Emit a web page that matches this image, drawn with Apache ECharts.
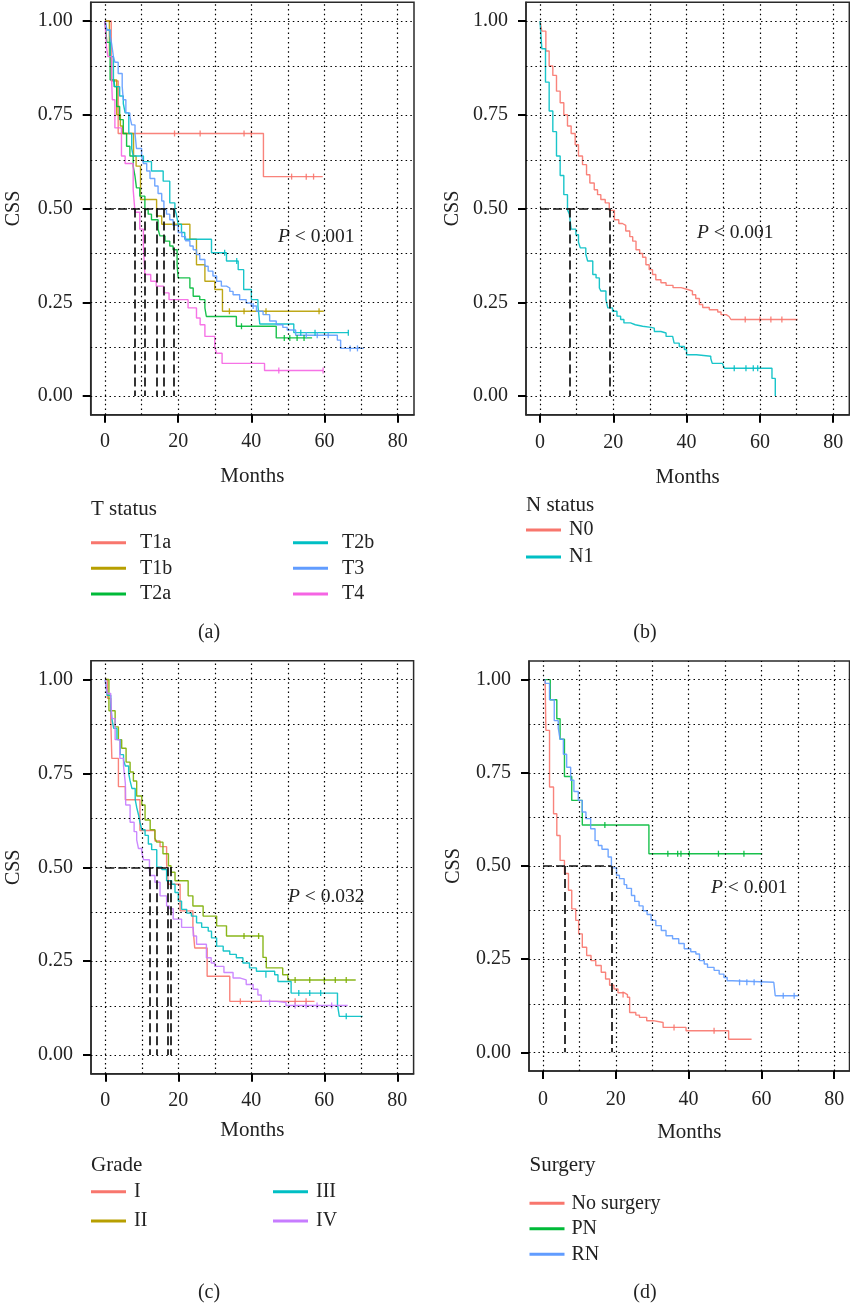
<!DOCTYPE html>
<html><head><meta charset="utf-8">
<script src="https://cdn.jsdelivr.net/npm/echarts@6/dist/echarts.min.js"></script>
<style>html,body{margin:0;padding:0;background:#fff}#c{width:850px;height:1308px}</style>
</head><body><div id="c"></div>
<script>
// ---------- tick / grid values ----------
const xTicks = [0, 20, 40, 60, 80];
const yTicks = [0, 0.25, 0.5, 0.75, 1];
const gridX = [0, 10, 20, 30, 40, 50, 60, 70, 80];
const gridY = [0, 0.125, 0.25, 0.375, 0.5, 0.625, 0.75, 0.875, 1];

// ---------- panel (a) T status ----------
const tNames = ['T1a', 'T1b', 'T2a', 'T2b', 'T3', 'T4'];
const T1a = [[0,1],[1.7,0.84],[3.6,0.70],[43.3,0.585],[59.5,0.585]];
const T1b = [[0,1],[1.2,0.905],[1.8,0.843],[3.2,0.75],[4.2,0.72],[4.8,0.70],[7.8,0.64],[8.5,0.613],[9.7,0.524],[14.1,0.48],[15.5,0.458],[23.2,0.418],[25,0.35],[27.3,0.306],[30,0.284],[32.1,0.226],[59.8,0.226]];
const T2a = [[0,1],[0.5,0.943],[1.4,0.843],[2.5,0.825],[3.2,0.772],[4.0,0.737],[5.0,0.70],[5.9,0.666],[6.8,0.64],[7.7,0.613],[8.2,0.586],[8.6,0.555],[9.5,0.533],[10.9,0.497],[11.8,0.485],[12.7,0.47],[14.5,0.445],[15,0.427],[16.4,0.413],[17.7,0.40],[18.6,0.39],[19.7,0.35],[20,0.315],[23.2,0.288],[24.1,0.266],[25.9,0.257],[27.3,0.235],[27.7,0.212],[35.9,0.186],[46.8,0.155],[56.6,0.155]];
const T2b = [[0,1],[0.5,0.976],[1.4,0.905],[2.3,0.843],[2.7,0.825],[4.0,0.80],[5.0,0.78],[5.5,0.755],[6.5,0.70],[7.3,0.66],[7.7,0.64],[10.5,0.625],[12.7,0.60],[15.9,0.573],[17.7,0.515],[19.1,0.497],[19.5,0.485],[20,0.458],[20.9,0.436],[21.8,0.418],[29.1,0.382],[33.2,0.36],[36.4,0.337],[37.9,0.284],[40,0.257],[41.8,0.24],[42.3,0.192],[51.6,0.169],[66.5,0.169]];
const T3 = [[0,1],[0.5,0.976],[1.4,0.962],[1.8,0.94],[2.3,0.905],[2.7,0.89],[3.6,0.86],[4.7,0.825],[5.0,0.79],[5.7,0.755],[6.8,0.745],[7.3,0.723],[8.2,0.70],[8.6,0.66],[10,0.64],[10.5,0.62],[11.4,0.60],[12.3,0.58],[13.6,0.56],[14.5,0.54],[15.5,0.52],[16.1,0.497],[16.8,0.485],[17.7,0.47],[18.6,0.455],[20,0.436],[21,0.425],[22,0.414],[23.2,0.40],[24.1,0.39],[25,0.377],[25.9,0.364],[27.3,0.346],[28.2,0.333],[29.5,0.32],[30.5,0.306],[31.8,0.293],[33.2,0.288],[34.1,0.279],[35,0.27],[36.8,0.257],[38.6,0.248],[40,0.24],[41.4,0.226],[43.2,0.217],[45,0.2],[46.8,0.19],[48.6,0.183],[49.8,0.176],[52.1,0.162],[63.5,0.149],[64.4,0.127],[70.7,0.127]];
const T4 = [[0,1],[0.4,0.93],[0.8,0.905],[1.8,0.843],[2.0,0.79],[2.7,0.715],[4.5,0.64],[5.5,0.62],[7.7,0.55],[8.2,0.49],[9.5,0.445],[10.5,0.40],[10.9,0.324],[12.5,0.306],[14,0.293],[16,0.275],[17.5,0.257],[22.7,0.235],[25,0.208],[26,0.19],[27.3,0.159],[30,0.13],[30.5,0.114],[32,0.087],[43.6,0.068],[59.6,0.068]];
const censorA = {
  T1a: [[19,0.70],[26,0.70],[38,0.70],[40,0.70],[51,0.585],[55,0.585],[57,0.585]],
  T1b: [[34,0.226],[38,0.226],[44,0.226],[58.5,0.226]],
  T2a: [[37.3,0.186],[49,0.155],[50.5,0.155],[52.5,0.155],[54.4,0.155]],
  T2b: [[32.7,0.382],[36,0.36],[53.5,0.169],[57.4,0.169],[66.5,0.169]],
  T3: [[40.5,0.24],[55,0.162],[58,0.162],[61,0.162],[67,0.127],[69,0.127]],
  T4: [[47.5,0.068],[59.6,0.068]]
};
const medA = [8.2, 10.9, 14.1, 16.1, 18.9];

// ---------- panel (b) N status ----------
const nNames = ['N0', 'N1'];
const N0 = [[0,1],[0.5,0.973],[1.6,0.92],[2.5,0.88],[3.5,0.855],[4.5,0.813],[5.5,0.782],[6.5,0.75],[7.5,0.72],[8.5,0.70],[9.6,0.67],[10.5,0.64],[11.6,0.617],[12.7,0.59],[13.6,0.568],[14.8,0.55],[15.7,0.537],[16.6,0.524],[17.8,0.515],[18.9,0.495],[20.3,0.47],[21.5,0.46],[22.5,0.455],[23.4,0.44],[24.5,0.425],[25.3,0.413],[26.2,0.39],[27.2,0.38],[28,0.37],[28.9,0.35],[29.8,0.337],[30.7,0.324],[31.6,0.31],[33,0.302],[34.4,0.295],[36.3,0.289],[38.5,0.284],[40.3,0.28],[41.6,0.27],[42.5,0.26],[43.5,0.244],[44.4,0.236],[46.2,0.23],[48.5,0.224],[49.4,0.217],[50.8,0.212],[51.6,0.208],[52.1,0.204],[70.3,0.204]];
const N1 = [[0,1],[0.5,0.926],[1.5,0.837],[2.5,0.76],[3.5,0.705],[4.5,0.64],[5.5,0.588],[6.5,0.537],[7.5,0.497],[8,0.485],[8.5,0.445],[9.8,0.43],[10.5,0.41],[11,0.395],[12.5,0.378],[13,0.36],[14.4,0.324],[15.3,0.315],[16.2,0.288],[16.6,0.28],[18,0.257],[18.5,0.235],[19.8,0.226],[21,0.213],[22,0.204],[22.9,0.195],[24.7,0.19],[26,0.186],[28,0.183],[30.3,0.181],[31.2,0.172],[33,0.168],[34.4,0.159],[36.2,0.155],[36.6,0.141],[38,0.132],[39.4,0.124],[40,0.11],[42.7,0.106],[46.6,0.1],[47,0.087],[49.8,0.083],[50.3,0.074],[63.3,0.047],[64.2,0]];
const censorB = {
  N0: [[56,0.204],[60,0.204],[63,0.204],[66,0.204]],
  N1: [[53,0.074],[56.2,0.074],[58.2,0.074],[59.4,0.074]]
};
const medB = [8.0, 18.9];

// ---------- panel (c) Grade ----------
const gNames = ['I', 'II', 'III', 'IV'];
const G1 = [[0,1],[0.6,0.95],[1.5,0.896],[1.8,0.79],[3.6,0.715],[5.5,0.68],[9.5,0.598],[13.6,0.57],[15,0.555],[16.8,0.51],[17.3,0.455],[20.5,0.384],[24,0.344],[24.5,0.285],[27.9,0.21],[34.1,0.143],[57.3,0.143]];
const G2 = [[0,1],[1.0,0.917],[2.7,0.874],[3.6,0.84],[4.5,0.817],[5.7,0.78],[6.8,0.754],[7.7,0.73],[8.6,0.69],[10,0.666],[10.9,0.626],[12.3,0.60],[13.6,0.577],[14.1,0.567],[15.8,0.536],[17.3,0.504],[18,0.487],[19.1,0.464],[22.7,0.424],[24,0.397],[26.8,0.37],[30.5,0.344],[33.2,0.317],[43.2,0.26],[44.1,0.232],[48.6,0.214],[50,0.2],[68.6,0.2]];
const G3 = [[0,1],[0.5,0.958],[1.5,0.93],[1.8,0.896],[2.3,0.87],[3.2,0.84],[4.1,0.80],[5,0.785],[5.5,0.77],[6.4,0.75],[6.8,0.73],[7.3,0.71],[8.2,0.68],[8.6,0.66],[9.1,0.64],[9.5,0.62],[10,0.60],[10.9,0.585],[11.8,0.562],[12.7,0.547],[14.1,0.50],[15.5,0.494],[16.8,0.464],[18.2,0.455],[19.1,0.433],[20,0.41],[20.9,0.388],[22.3,0.378],[23.6,0.37],[25,0.352],[26.4,0.34],[28.2,0.33],[29.1,0.312],[30.5,0.29],[32.3,0.277],[34.1,0.268],[35.9,0.259],[37.7,0.245],[39.5,0.232],[41.4,0.223],[46.4,0.214],[47.3,0.196],[50.9,0.165],[63.6,0.134],[64.1,0.103],[70.5,0.103]];
const G4 = [[0,1],[0.5,0.963],[1.5,0.95],[1.8,0.896],[2.7,0.84],[4,0.79],[5,0.77],[5.5,0.723],[5.6,0.666],[6.8,0.62],[7.9,0.595],[8.6,0.573],[9.1,0.55],[10,0.54],[10.5,0.52],[12.1,0.49],[12.3,0.478],[13.6,0.46],[15,0.424],[16.8,0.397],[17.5,0.39],[18.6,0.362],[20.9,0.34],[24.1,0.317],[25,0.295],[27.7,0.259],[29,0.245],[30,0.236],[32.5,0.22],[35,0.205],[37,0.2],[38.6,0.188],[40.5,0.175],[41.8,0.16],[42.7,0.143],[47,0.14],[49.5,0.132],[66.4,0.132]];
const censorC = {
  I: [[37,0.143],[52,0.143],[55,0.143]],
  II: [[38,0.317],[42,0.317],[52,0.2],[56,0.2],[60,0.2],[63,0.2],[66,0.2]],
  III: [[44,0.214],[53,0.165],[56,0.165],[59,0.165],[66,0.103]],
  IV: [[45,0.14],[52,0.132],[55,0.132],[58,0.132],[62,0.132]]
};
const medC = [12.1, 14.1, 17.0, 18.0];

// ---------- panel (d) Surgery ----------
const sNames = ['No surgery', 'PN', 'RN'];
const S0 = [[0,1],[0.6,0.99],[0.8,0.864],[1.8,0.712],[2.9,0.64],[3.8,0.582],[4.7,0.515],[5.9,0.48],[7,0.435],[7.9,0.385],[9,0.354],[9.8,0.318],[10.8,0.282],[12,0.26],[13.2,0.246],[14.5,0.233],[16,0.215],[17.2,0.197],[18.3,0.18],[19.5,0.17],[20.6,0.16],[22.3,0.155],[23.2,0.148],[23.8,0.107],[25.5,0.10],[26.5,0.094],[28.5,0.085],[30.3,0.08],[33,0.067],[39.3,0.058],[51,0.035],[57.3,0.035]];
const S1 = [[0,1],[2.0,0.946],[3.8,0.895],[4.7,0.84],[5.9,0.74],[7.9,0.676],[10.8,0.61],[29.1,0.533],[60.2,0.533]];
const S2 = [[0,1],[0.6,0.99],[1.8,0.946],[3.1,0.89],[4.2,0.87],[4.7,0.84],[5.6,0.80],[6.5,0.765],[7.6,0.73],[8.5,0.70],[9.7,0.676],[10.8,0.645],[11.8,0.627],[13.1,0.60],[14.3,0.568],[15.2,0.555],[16.2,0.545],[17.9,0.524],[18.8,0.495],[20.2,0.475],[21,0.466],[22.3,0.45],[23,0.44],[24.3,0.421],[25.2,0.405],[26.4,0.393],[27.5,0.38],[28.6,0.37],[29.7,0.354],[31,0.34],[32.5,0.327],[33.8,0.313],[35.6,0.305],[37.3,0.292],[38.8,0.278],[40.6,0.27],[42,0.264],[43,0.246],[44.3,0.237],[45.2,0.228],[47,0.22],[48.4,0.21],[49.7,0.201],[50.6,0.192],[52,0.188],[63.4,0.188],[63.8,0.152],[70.2,0.152]];
const censorD = {
  'No surgery': [[22,0.155],[36,0.067],[47,0.058]],
  PN: [[17,0.61],[34.3,0.533],[37,0.533],[37.9,0.533],[40.2,0.533],[48.2,0.533],[55.2,0.533]],
  RN: [[54,0.188],[56,0.188],[58,0.188],[60,0.188],[66,0.152],[69,0.152]]
};
const medD = [5.9, 18.8];

// ---------- styling ----------
const FONT = 'Liberation Serif';
const TXT = '#222';
const colA = ['#F8766D', '#B79F00', '#00BA38', '#00BFC4', '#619CFF', '#F564E3'];
const colB = ['#F8766D', '#00BFC4'];
const colC = ['#F8766D', '#7CAE00', '#00BFC4', '#C77CFF'];
const colD = ['#F8766D', '#00BA38', '#619CFF'];

const panels = [
  { grid: {left: 90.7, top: 2.25, width: 323.3, height: 412.5}, xr: [-3.91, 84.45], yGap: 67, xGap: 51, xMargin: 17,
    names: tNames, curves: [T1a, T1b, T2a, T2b, T3, T4], cols: colA, cens: censorA, med: medA },
  { grid: {left: 526, top: 2.25, width: 323.3, height: 412.5}, xr: [-3.82, 84.4], yGap: 63, xGap: 52, xMargin: 18,
    names: nNames, curves: [N0, N1], cols: colB, cens: censorB, med: medB },
  { grid: {left: 91, top: 660.8, width: 322.6, height: 413}, xr: [-3.91, 84.45], yGap: 67, xGap: 46, xMargin: 17,
    names: gNames, curves: [G1, G2, G3, G4], cols: colC, cens: censorC, med: medC },
  { grid: {left: 529, top: 661, width: 320.5, height: 410}, xr: [-3.84, 84.2], yGap: 65, xGap: 51, xMargin: 19,
    names: sNames, curves: [S0, S1, S2], cols: colD, cens: censorD, med: medD }
];

const grids = [], xAxes = [], yAxes = [], series = [];
panels.forEach((p, i) => {
  grids.push(Object.assign({show: true, borderColor: '#2a2a2a', borderWidth: 1.5, backgroundColor: 'transparent'}, p.grid));
  xAxes.push({
    gridIndex: i, type: 'value', min: p.xr[0], max: p.xr[1],
    axisLine: {show: true, onZero: false, lineStyle: {color: '#2a2a2a', width: 1.5}},
    axisTick: {show: true, customValues: xTicks, length: 8, lineStyle: {color: '#000', width: 2}},
    axisLabel: {customValues: xTicks, margin: p.xMargin, fontFamily: FONT, fontSize: 20, color: TXT},
    splitLine: {show: false},
    name: 'Months', nameLocation: 'middle', nameGap: p.xGap,
    nameTextStyle: {fontFamily: FONT, fontSize: 21, color: TXT}
  });
  yAxes.push({
    gridIndex: i, type: 'value', min: -0.05, max: 1.05,
    axisLine: {show: true, onZero: false, lineStyle: {color: '#2a2a2a', width: 1.5}},
    axisTick: {show: true, customValues: yTicks, length: 8, lineStyle: {color: '#000', width: 2}},
    axisLabel: {customValues: yTicks, margin: 18, fontFamily: FONT, fontSize: 20, color: TXT,
      formatter: v => v.toFixed(2)},
    splitLine: {show: false},
    name: 'CSS', nameLocation: 'middle', nameGap: p.yGap,
    nameTextStyle: {fontFamily: FONT, fontSize: 20, color: TXT}
  });
  // dotted grid lines
  series.push({
    type: 'line', xAxisIndex: i, yAxisIndex: i, data: [], z: 1, silent: true,
    markLine: {
      silent: true, symbol: ['none', 'none'], label: {show: false}, animation: false,
      lineStyle: {type: [1.5, 3.2], color: '#000', width: 1.2},
      emphasis: {disabled: true},
      data: gridX.map(v => ({xAxis: v})).concat(gridY.map(v => ({yAxis: v})))
    }
  });
  // curves
  p.curves.forEach((c, k) => {
    series.push({
      name: p.names[k], type: 'line', step: 'end', xAxisIndex: i, yAxisIndex: i,
      data: c, showSymbol: false, z: 3, silent: true,
      lineStyle: {color: p.cols[k], width: 1.4, opacity: 0.9},
      itemStyle: {color: p.cols[k]}
    });
    const cz = p.cens[p.names[k]];
    if (cz) series.push({
      name: p.names[k], type: 'scatter', xAxisIndex: i, yAxisIndex: i, data: cz, z: 4, silent: true,
      symbol: 'rect', symbolSize: [1.3, 6], itemStyle: {color: p.cols[k], opacity: 0.9}
    });
  });
  // median lines
  const mMax = Math.max.apply(null, p.med);
  series.push({
    type: 'line', xAxisIndex: i, yAxisIndex: i, data: [], z: 5, silent: true,
    markLine: {
      silent: true, symbol: ['none', 'none'], label: {show: false}, animation: false,
      lineStyle: {type: [9, 4], color: '#111', width: 1.7},
      emphasis: {disabled: true},
      data: [[{coord: [0, 0.5]}, {coord: [mMax, 0.5]}]].concat(
        p.med.map(m => [{coord: [m, 0.5]}, {coord: [m, 0]}]))
    }
  });
});

const legTxt = (padL) => ({fontFamily: FONT, fontSize: 20, color: TXT, lineHeight: 20, padding: [0, 0, 0, padL]});
const legBase = {orient: 'vertical', icon: 'rect', itemWidth: 35, itemHeight: 3, padding: 0, selectedMode: false};
const legends = [
  Object.assign({}, legBase, {left: 91, top: 532.7, itemGap: 5.6, textStyle: legTxt(9), data: ['T1a', 'T1b', 'T2a']}),
  Object.assign({}, legBase, {left: 293, top: 532.7, itemGap: 5.6, textStyle: legTxt(9), data: ['T2b', 'T3', 'T4']}),
  Object.assign({}, legBase, {left: 526, top: 520, itemGap: 7, textStyle: legTxt(3), data: ['N0', 'N1']}),
  Object.assign({}, legBase, {left: 91, top: 1181.7, itemGap: 9.3, textStyle: legTxt(3),
    data: ['I', {name: 'II', itemStyle: {color: '#B79F00'}}]}),
  Object.assign({}, legBase, {left: 273, top: 1181.7, itemGap: 9.3, textStyle: legTxt(3), data: ['III', 'IV']}),
  Object.assign({}, legBase, {left: 529.5, top: 1193.3, itemGap: 5.5, textStyle: legTxt(2), data: sNames})
];

function txt(x, y, s, align, size) {
  return {type: 'text', x: x, y: y, silent: true,
    style: {text: s, fontFamily: FONT, fontSize: size || 19.5, fill: TXT, align: align || 'left', verticalAlign: 'middle',
      rich: {i: {fontStyle: 'italic', fontFamily: FONT, fontSize: size || 19.5, fill: TXT}}}};
}
const graphics = [
  txt(278, 236.5, '{i|P} < 0.001'),
  txt(697, 233, '{i|P} < 0.001'),
  txt(288, 896.7, '{i|P} < 0.032'),
  txt(711, 888.3, '{i|P} < 0.001'),
  txt(91, 509, 'T status', 'left', 21),
  txt(526, 505, 'N status', 'left', 21),
  txt(91, 1165.7, 'Grade', 'left', 21),
  txt(529.5, 1165.7, 'Surgery', 'left', 21),
  txt(209, 633, '(a)', 'center', 20),
  txt(645, 633, '(b)', 'center', 20),
  txt(209, 1293, '(c)', 'center', 20),
  txt(645, 1293, '(d)', 'center', 20)
];

const chart = echarts.init(document.getElementById('c'), null, {renderer: 'canvas'});
chart.setOption({
  animation: false,
  backgroundColor: '#fff',
  grid: grids, xAxis: xAxes, yAxis: yAxes,
  legend: legends,
  series: series,
  graphic: graphics
});
</script></body></html>
